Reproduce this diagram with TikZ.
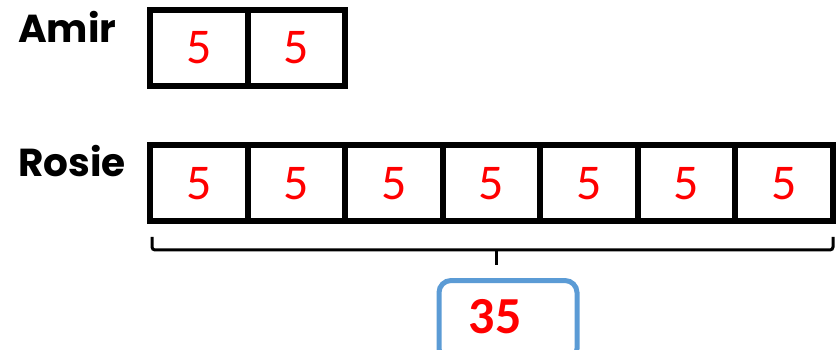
\documentclass[tikz,border=0pt]{standalone}
\usepackage{fontspec}
\setmainfont{Carlito}
\newfontfamily\labelfont{Poppins}
\usepackage{tikz}
\usetikzlibrary{positioning,calc}
\definecolor{boxblue}{RGB}{91,155,213}
\definecolor{numred}{RGB}{255,0,0}

\begin{document}
\begin{tikzpicture}[x=1pt,y=-1pt]
    % Define styles
    \tikzstyle{cell} = [rectangle, minimum width=97.5pt, minimum height=76pt, inner sep=0pt, outer sep=0pt, draw=black, line width=6pt, text=numred, font=\fontsize{50}{50}\selectfont]
    \tikzstyle{person} = [anchor=base west, inner sep=0pt, font=\labelfont\bfseries\fontsize{39}{39}\selectfont]
    \tikzstyle{totalbox} = [rectangle, rounded corners=12pt, minimum width=138pt, minimum height=80pt, draw=boxblue, line width=5pt]
    \tikzstyle{totalnum} = [anchor=base, inner sep=0pt, text=numred, font=\bfseries\fontsize{52}{52}\selectfont]
    \tikzstyle{bracket} = [line width=3pt, rounded corners=3pt]

    \useasboundingbox (0,0) rectangle (839,350);

    % Nodes
    \node (amir) [person] at (18,43) {Amir};
    \node (amir1) [cell] at (198.75,48) {5};
    \node (amir2) [cell, right=0pt of amir1] {5};

    \node (rosie) [person] at (18,177) {Rosie};
    \node (rosie1) [cell] at (198.75,183.5) {5};
    \foreach \i [count=\j from 2] in {1,...,6}
        \node (rosie\j) [cell, right=0pt of rosie\i] {5};

    \node (total) [totalbox] at (508,320.5) {};
    \node (sum) [totalnum] at (495,333) {35};

    % Bracket
    \coordinate (tip) at ($(rosie1.south west)!0.5!(rosie7.south east)+(5,43.5)$);
    \draw [bracket] ($(rosie1.south west)+(2,15.5)$) -- ($(rosie1.south west)+(2,28.5)$)
        -- ($(rosie7.south east)+(0.5,28.5)$) -- ($(rosie7.south east)+(0.5,15.5)$);
    \draw [line width=3pt] ($(tip)+(0,-15)$) -- (tip);
\end{tikzpicture}
\end{document}
